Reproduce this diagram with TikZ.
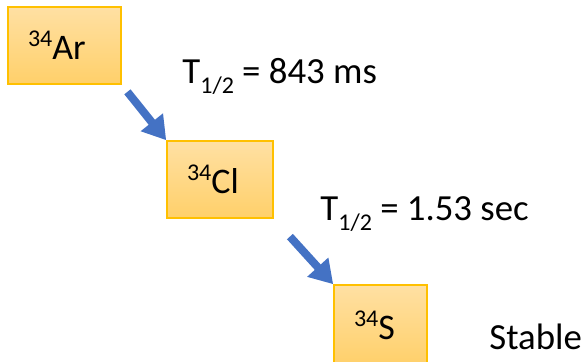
\documentclass[tikz,border=0pt]{standalone}
\usepackage{fontspec}
\setmainfont{Carlito}
\usetikzlibrary{arrows.meta}
\newcommand{\nuc}[2]{\raisebox{6.6pt}{\fontsize{12}{14}\selectfont #1}#2}% mass number, element
\newcommand{\thalf}{T\raisebox{-5pt}{\fontsize{12}{14}\selectfont 1/2}}
\definecolor{boxTop}{HTML}{FFE0A3}
\definecolor{boxBot}{HTML}{FFD06A}
\definecolor{boxLine}{HTML}{FFC000}
\definecolor{arrBlue}{HTML}{4472C4}
\tikzset{
  nucl/.style={draw=boxLine,line width=0.8pt,top color=boxTop,bottom color=boxBot,
    align=left,inner xsep=10pt,inner ysep=0pt,font=\fontsize{18}{21}\selectfont},
  lbl/.style={anchor=base west,inner sep=0pt,font=\fontsize{18.4}{21}\selectfont},
  arr/.style={arrBlue,line width=4pt,-{Triangle[length=11.5pt,width=13.5pt]}},
}

\begin{document}
\begin{tikzpicture}[x=0.5pt,y=-0.5pt]
\useasboundingbox (0,0) rectangle (585,361);
% decay chain
\node[nucl,text width=36.5pt,minimum height=38.5pt] (ar) at (64.5,45.5) {\nuc{34}{Ar}};
\node[nucl,text width=33pt,minimum height=38.5pt] (cl) at (220,179.5) {\nuc{34}{Cl}};
\node[nucl,text width=26.5pt,minimum height=40pt] (s) at (380.5,325) {\nuc{34}{S}};

% half-lives
\node[lbl] (hlar) at (182,83) {\thalf{} = 843 ms};
\node[lbl] (hlcl) at (320,220) {\thalf{} = 1.53 sec};
\node[lbl] (stable) at (489,349) {Stable};

\draw[arr,shorten <=4.5pt] (ar.south east) -- (cl.north west);
\draw[arr,shorten <=12pt] (cl.south east) -- (s.north west);
\end{tikzpicture}
\end{document}
